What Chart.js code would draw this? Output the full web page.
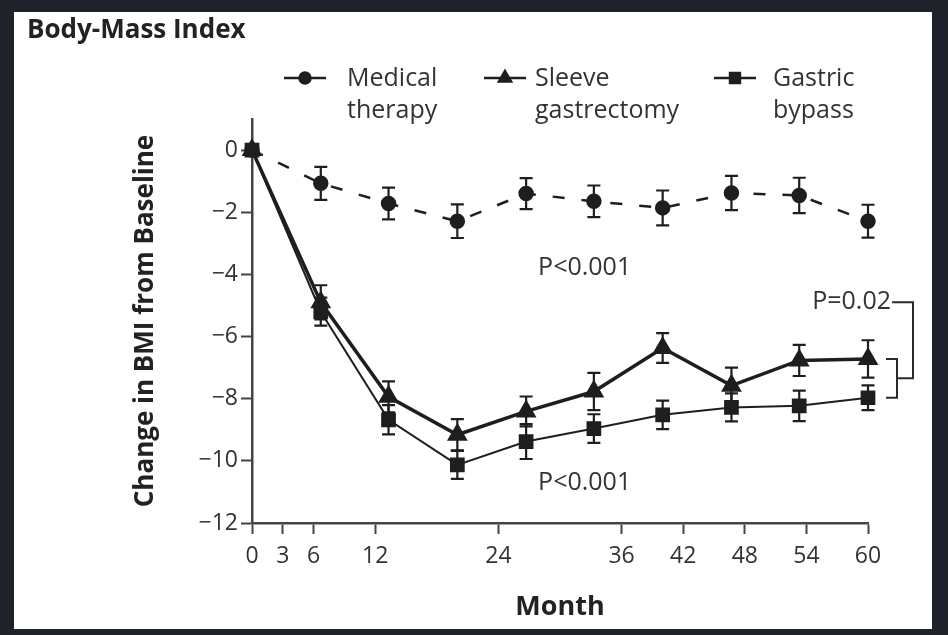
<!DOCTYPE html>
<html><head><meta charset="utf-8">
<script src="https://cdn.jsdelivr.net/npm/chart.js@4.4.1/dist/chart.umd.min.js"></script>
<style>
html,body{margin:0;padding:0;background:#1f2228;width:948px;height:635px;overflow:hidden;}
#box{position:absolute;left:14px;top:12px;width:918px;height:617px;background:#fff;}
canvas{display:block;}
</style></head><body>
<div id="box"><canvas id="c" width="918" height="617"></canvas></div>
<script>
// ---- data ----
const months = [0, 6.7, 13.3, 20, 26.7, 33.3, 40, 46.7, 53.3, 60];
const medical = [0, -1.07, -1.72, -2.29, -1.40, -1.65, -1.86, -1.38, -1.46, -2.29];
const medicalErr = [0, 0.53, 0.51, 0.54, 0.50, 0.51, 0.56, 0.55, 0.57, 0.53];
const sleeve = [0, -4.90, -7.94, -9.16, -8.41, -7.77, -6.37, -7.58, -6.77, -6.72];
const sleeveErr = [0, 0.55, 0.50, 0.50, 0.48, 0.60, 0.48, 0.58, 0.50, 0.60];
const bypass = [0, -5.20, -8.68, -10.13, -9.38, -8.96, -8.52, -8.28, -8.23, -7.97];
const bypassErr = [0, 0.45, 0.47, 0.45, 0.56, 0.46, 0.46, 0.45, 0.49, 0.40];
const seriesNames = [["Medical", "therapy"], ["Sleeve", "gastrectomy"], ["Gastric", "bypass"]];
const xTicks = [0, 3, 6, 12, 24, 36, 42, 48, 54, 60];
const yTicks = [0, -2, -4, -6, -8, -10, -12];
const pLabels = [
  {text: "P<0.001", x: 32.4, y: -3.8},
  {text: "P<0.001", x: 32.4, y: -10.7}
];
const pBracketLabel = {text: "P=0.02", y: -4.9};

const FONT = "'Open Sans', 'Noto Sans', sans-serif";
const INK = '#1e1e1e';
const TXT = '#333333';

function pts(vals) { return months.map((m, i) => ({x: m, y: vals[i]})); }

const errs = [medicalErr, sleeveErr, bypassErr];

const errorBarPlugin = {
  id: 'errorBars',
  afterDatasetsDraw(chart) {
    const ctx = chart.ctx, xs = chart.scales.x, ys = chart.scales.y;
    ctx.save();
    ctx.strokeStyle = INK;
    ctx.lineWidth = 2.2;
    chart.data.datasets.forEach((ds, di) => {
      ds.data.forEach((p, i) => {
        const e = errs[di][i];
        if (!e) return;
        const x = xs.getPixelForValue(p.x);
        const y1 = ys.getPixelForValue(p.y + e);
        const y2 = ys.getPixelForValue(p.y - e);
        ctx.beginPath();
        ctx.moveTo(x, y1); ctx.lineTo(x, y2);
        ctx.moveTo(x - 6.5, y1); ctx.lineTo(x + 6.5, y1);
        ctx.moveTo(x - 6.5, y2); ctx.lineTo(x + 6.5, y2);
        ctx.stroke();
      });
    });
    ctx.restore();
  }
};

const annotPlugin = {
  id: 'annot',
  afterDraw(chart) {
    const ctx = chart.ctx, xs = chart.scales.x, ys = chart.scales.y;
    ctx.save();
    ctx.fillStyle = TXT;
    ctx.font = "25px " + FONT;
    ctx.textAlign = 'center';
    ctx.textBaseline = 'middle';
    pLabels.forEach(l => ctx.fillText(l.text, xs.getPixelForValue(l.x), ys.getPixelForValue(l.y)));
    // brackets
    const xe = xs.getPixelForValue(months[months.length - 1]);
    const yTop = ys.getPixelForValue(sleeve[sleeve.length - 1]);
    const yBot = ys.getPixelForValue(bypass[bypass.length - 1]);
    const x0 = xe + 18, x1 = xe + 29, xo = xe + 45;
    const yMid = (yTop + yBot) / 2;
    const yLab = ys.getPixelForValue(pBracketLabel.y);
    ctx.strokeStyle = '#2a2a2a';
    ctx.lineWidth = 2;
    ctx.beginPath();
    ctx.moveTo(x0, yTop); ctx.lineTo(x1, yTop); ctx.lineTo(x1, yBot); ctx.lineTo(x0, yBot);
    ctx.moveTo(x1, yMid); ctx.lineTo(xo, yMid); ctx.lineTo(xo, yLab); ctx.lineTo(xe + 24, yLab);
    ctx.stroke();
    ctx.textAlign = 'right';
    ctx.fillText(pBracketLabel.text, xe + 23, yLab);
    // legend
    const legX = [291, 491, 721];
    const legTextX = [333, 521, 759];
    const legY = 66;
    chart.data.datasets.forEach((ds, i) => {
      const cx = legX[i];
      ctx.strokeStyle = INK;
      ctx.lineWidth = 2.5;
      ctx.setLineDash([]);
      ctx.beginPath();
      ctx.moveTo(cx - 21, legY); ctx.lineTo(cx + 21, legY);
      ctx.stroke();
      ctx.fillStyle = INK;
      Chart.helpers.drawPoint(ctx, {pointStyle: ds.pointStyle, radius: ds.pointStyle === 'circle' ? 5.5 : 7, rotation: 0, borderWidth: 1}, cx, legY);
      ctx.fillStyle = TXT;
      ctx.font = "25px " + FONT;
      ctx.textAlign = 'left';
      ds.label.forEach((t, k) => ctx.fillText(t, legTextX[i], legY + 1 + k * 32));
    });
    ctx.restore();
  }
};

new Chart(document.getElementById('c'), {
  type: 'line',
  data: {
    datasets: [
      {label: seriesNames[0], data: pts(medical), borderColor: INK, backgroundColor: INK,
       borderWidth: 2.5, borderDash: [12, 17], pointStyle: 'circle', pointRadius: 6.5,
       pointBackgroundColor: INK, pointBorderColor: INK, clip: false, tension: 0},
      {label: seriesNames[1], data: pts(sleeve), borderColor: INK, backgroundColor: INK,
       borderWidth: 3.5, pointStyle: 'triangle', pointRadius: 8.5,
       pointBackgroundColor: INK, pointBorderColor: INK, clip: false, tension: 0},
      {label: seriesNames[2], data: pts(bypass), borderColor: INK, backgroundColor: INK,
       borderWidth: 2, pointStyle: 'rect', pointRadius: 9,
       pointBackgroundColor: INK, pointBorderColor: INK, clip: false, tension: 0}
    ]
  },
  options: {
    responsive: false,
    animation: false,
    devicePixelRatio: 1,
    layout: {padding: {left: 13, right: 64, top: 0, bottom: 0}},
    plugins: {
      legend: {display: false},
      tooltip: {enabled: false},
      title: {display: true, text: 'Body-Mass Index', align: 'start', color: '#222',
              font: {family: FONT, size: 26, weight: 'bold'}, padding: {top: 3, bottom: 72.8}}
    },
    scales: {
      x: {
        type: 'linear', min: 0, max: 60,
        afterBuildTicks: s => { s.ticks = xTicks.map(v => ({value: v})); },
        afterFit: s => { s.height = 106; },
        grid: {display: true, drawOnChartArea: false, drawTicks: true, tickLength: 11, tickWidth: 2, color: '#444'},
        border: {display: true, color: '#444', width: 2.5},
        ticks: {autoSkip: false, maxRotation: 0, color: TXT, padding: 9, font: {family: FONT, size: 23}},
        title: {display: true, text: 'Month', color: '#222', font: {family: FONT, size: 27, weight: 'bold'}, padding: {top: 0, bottom: 5}}
      },
      y: {
        type: 'linear', min: -12, max: 1,
        afterBuildTicks: s => { s.ticks = yTicks.map(v => ({value: v})); },
        afterFit: s => { s.width = 225; },
        grid: {display: true, drawOnChartArea: false, drawTicks: true, tickLength: 11, tickWidth: 2, color: '#444'},
        border: {display: true, color: '#444', width: 2.5},
        ticks: {color: TXT, padding: 3, font: {family: FONT, size: 23},
                callback: v => v < 0 ? '\u2212' + Math.abs(v) : String(v)},
        title: {display: true, text: 'Change in BMI from Baseline', color: '#222',
                font: {family: FONT, size: 26, weight: 'bold'}, padding: {top: 103, bottom: 0}}
      }
    }
  },
  plugins: [errorBarPlugin, annotPlugin]
});
</script>
</body></html>
